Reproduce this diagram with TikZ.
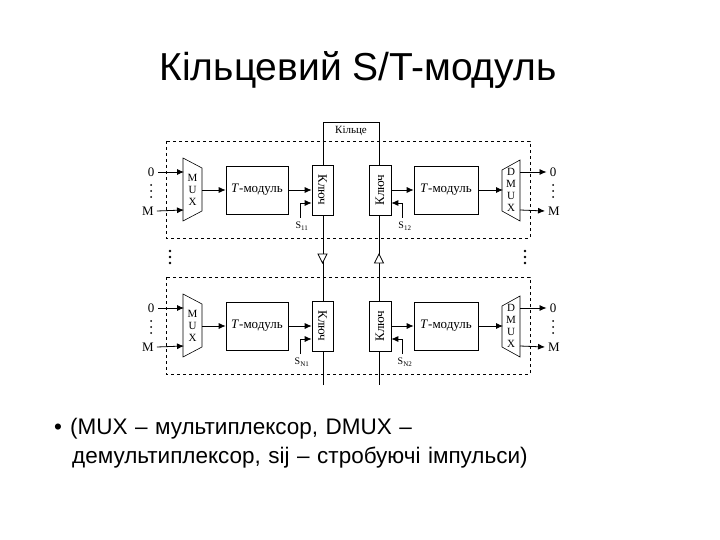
\documentclass[tikz,border=0pt]{standalone}
\usepackage{fontspec}
\setmainfont{Liberation Serif}
\newfontfamily\sans{Liberation Sans}
\usetikzlibrary{arrows.meta,shapes.geometric}
\begin{document}
\begin{tikzpicture}[x=1pt,y=-1pt,
  blk/.style={draw,line width=0.6pt},
  arr/.style={-{Latex[length=7pt,width=6pt]},line width=0.8pt},
  dbox/.style={draw,dashed,line width=0.6pt},
  lab/.style={font=\fontsize{13}{13}\selectfont,inner sep=0pt},
  dt/.style={fill,circle,inner sep=0pt,minimum size=2pt}]
\useasboundingbox (0,0) rectangle (720,540);
\node[font=\sans\fontsize{39}{39}\selectfont] (title) at (358,70) {Кільцевий S/T-модуль};
% ring
\draw[line width=0.7pt] (323,385) -- (323,122) -- (379,122) -- (379,385);
\node[lab,font=\fontsize{11}{11}\selectfont] (ring) at (351,131) {Кільце};
\draw[line width=0.7pt,fill=white] (318,254) -- (327,254) -- (322.5,263) -- cycle;
\draw[line width=0.7pt,fill=white] (374.5,263) -- (383.5,263) -- (379,254) -- cycle;
\foreach \dx in {170,525}{\foreach \dy in {251,257,263}{\fill (\dx,\dy) circle (1.3pt);}}
\foreach \o/\sa/\sb in {0/11/12,136/N1/N2}{
\begin{scope}[yshift=-\o pt]
\draw[dbox] (166,141) rectangle (530,238);
\draw[blk,fill=white] (183,158) -- (202,168) -- (202,211) -- (183,221) -- cycle;
\node[lab,align=center,font=\fontsize{11}{12}\selectfont] (mux\sa) at (192.5,190) {M\\U\\X};
\draw[blk,fill=white] (502,170) -- (520,160) -- (520,221) -- (502,211) -- cycle;
\node[lab,align=center,font=\fontsize{11}{12}\selectfont] (dmux\sa) at (511,190) {D\\M\\U\\X};
\node[blk,minimum width=62pt,minimum height=48pt,lab] (t1\sa) at (257,190) {\textit{T}-модуль};
\node[blk,minimum width=64pt,minimum height=48pt,lab] (t2\sa) at (446,190) {\textit{T}-модуль};
\node[blk,fill=white,minimum width=21pt,minimum height=50pt] (k1\sa) at (322.5,190) {};
\node[lab,rotate=-90] at (322.5,190) {Ключ};
\node[blk,fill=white,minimum width=22pt,minimum height=50pt] (k2\sa) at (380,190) {};
\node[lab,rotate=90] at (380,190) {Ключ};
\node[lab] (i0\sa) at (151,172) {0};
\node[lab] (iM\sa) at (148,211) {M};
\foreach \yy in {185,191,197}{\node[dt] at (151,\yy) {}; \node[dt] at (553,\yy) {};}
\node[lab] (o0\sa) at (553,172) {0};
\node[lab] (oM\sa) at (554,211) {M};
\draw[arr] (i0\sa.east) ++(4,0) -- (184,172);
\draw[arr] (iM\sa.east) ++(3,0) -- (184,210);
\draw[arr] (202,190) -- (t1\sa.west);
\draw[arr] (t1\sa.east) -- (k1\sa.west);
\draw[arr] (k2\sa.east) -- (t2\sa.west);
\draw[arr] (t2\sa.east) -- (503,190);
\draw[arr] (520,172) -- ([xshift=-3pt]o0\sa.west);
\draw[arr] (520,210) -- ([xshift=-3pt]oM\sa.west);
\coordinate (s1\sa) at (300,218);
\coordinate (s2\sa) at (402,218);
\draw[arr] (s1\sa) |- (k1\sa.west |- 0,203);
\draw[arr] (s2\sa) |- (k2\sa.east |- 0,203);
\node[lab,font=\fontsize{10}{10}\selectfont] at (302,226) {S\textsubscript{\sa}};
\node[lab,font=\fontsize{10}{10}\selectfont] at (405,226) {S\textsubscript{\sb}};
\end{scope}}
\node[font=\sans\fontsize{22.5}{22.5}\selectfont,anchor=north west,align=left,text width=650pt,inner sep=0pt] (txt) at (54,418) {•\hspace{8pt}(MUX – мультиплексор, DMUX –\\[6pt]\hspace*{18pt}демультиплексор, sij – стробуючі імпульси)};
\end{tikzpicture}
\end{document}
